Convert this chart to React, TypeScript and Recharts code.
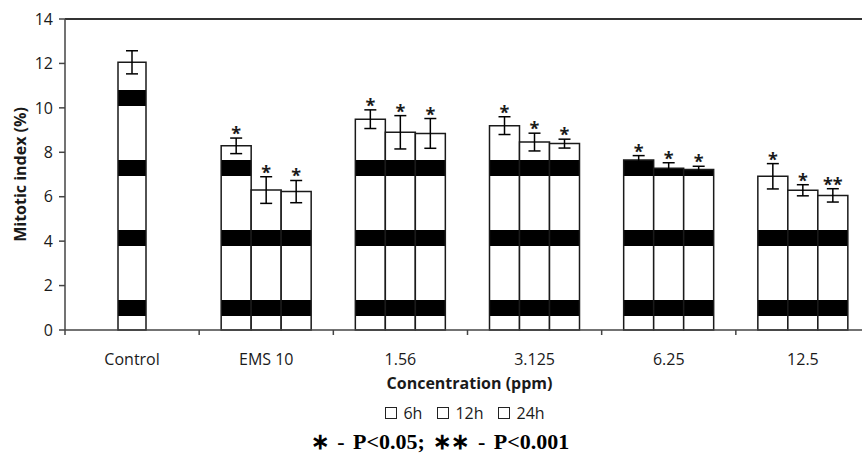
import * as React from 'react';
import { BarChart, Bar, XAxis, YAxis, ErrorBar, LabelList, Legend, ReferenceLine } from 'recharts';

// categories and values
const categories = ['Control', 'EMS 10', '1.56', '3.125', '6.25', '12.5'];
const seriesOrder = ['6h', '12h', '24h'];
const controlMean = [12.05, null, null, null, null, null];
const controlErr = [0.52, null, null, null, null, null];
const mean6h = [null, 8.29, 9.49, 9.2, 7.65, 6.92];
const mean12h = [null, 6.3, 8.9, 8.46, 7.28, 6.29];
const mean24h = [null, 6.23, 8.85, 8.39, 7.22, 6.06];
const err6h = [null, 0.35, 0.42, 0.4, 0.2, 0.57];
const err12h = [null, 0.6, 0.75, 0.4, 0.25, 0.25];
const err24h = [null, 0.5, 0.67, 0.2, 0.15, 0.3];
const sig6h = ['', '*', '*', '*', '*', '*'];
const sig12h = ['', '*', '*', '*', '*', '*'];
const sig24h = ['', '*', '*', '*', '*', '**'];
const yTicks = [0, 2, 4, 6, 8, 10, 12, 14];

const data = categories.map((c, i) => ({
  name: c,
  control: controlMean[i],
  controlErr: controlErr[i],
  h6: mean6h[i],
  h12: mean12h[i],
  h24: mean24h[i],
  e6: err6h[i],
  e12: err12h[i],
  e24: err24h[i],
}));

const FONT = '"Open Sans", sans-serif';
const INK = '#1a1a1a';

// star marker above the error bar; the label value is the category name
const starLabel = (means: (number | null)[], errs: (number | null)[], sigs: string[]) => (props: any) => {
  const { x, y, width, height, value } = props;
  const i = categories.indexOf(value);
  const s = sigs[i];
  const m = means[i];
  if (!s || !m) return null;
  const errPx = ((errs[i] || 0) * height) / m;
  return (
    <text x={x + width / 2} y={y - errPx + 2} textAnchor="middle" fontFamily={FONT} fontWeight={700} fontSize={18} fill={INK}>
      {s}
    </text>
  );
};

// category label at the middle, tick mark on the boundary between categories
const CatTick = (props: any) => {
  const { x, y, payload, width, visibleTicksCount } = props;
  const half = width && visibleTicksCount ? width / visibleTicksCount / 2 : payload.offset || 0;
  return (
    <g>
      <line x1={x - half} x2={x - half} y1={y} y2={y + 5} stroke="#444" strokeWidth={1.5} />
      <text x={x} y={y + 35} textAnchor="middle" fontFamily={FONT} fontSize={16} fill={INK}>
        {payload.value}
      </text>
    </g>
  );
};

const YTitle = (props: any) => {
  const vb = props.viewBox;
  const cx = 20;
  const cy = vb.y + vb.height / 2;
  return (
    <text x={cx} y={cy} textAnchor="middle" dominantBaseline="central" transform={`rotate(-90, ${cx}, ${cy})`}
      fontFamily={FONT} fontWeight={700} fontSize={16} fill={INK}>
      Mitotic index (%)
    </text>
  );
};

const XTitle = (props: any) => {
  const vb = props.viewBox;
  return (
    <text x={vb.x + vb.width / 2 + 2} y={vb.y + 59} textAnchor="middle" fontFamily={FONT} fontWeight={700} fontSize={16} fill={INK}>
      Concentration (ppm)
    </text>
  );
};

const LegendBox = (props: any) => {
  const items = (props.payload || [])
    .filter((p: any) => seriesOrder.includes(p.value))
    .sort((a: any, b: any) => seriesOrder.indexOf(a.value) - seriesOrder.indexOf(b.value));
  return (
    <div style={{ display: 'flex', justifyContent: 'center', gap: 15, fontFamily: FONT, fontSize: 16, color: INK }}>
      {items.map((p: any) => (
        <span key={p.value} style={{ display: 'flex', alignItems: 'center' }}>
          <span style={{ width: 12, height: 12, border: '1.3px solid #222', marginRight: 6, boxSizing: 'border-box' }} />
          {p.value}
        </span>
      ))}
    </div>
  );
};

export default function App() {
  const barStyle = { fill: 'url(#bands)', stroke: INK, strokeWidth: 1.5 };
  return (
    <div style={{ position: 'absolute', left: 0, top: 0, width: 862, height: 469, overflow: 'hidden', background: '#fff' }}>
      <BarChart width={880} height={469} data={data} margin={{ top: 19, right: 10, bottom: 69, left: 0 }}
        barGap={0} barCategoryGap="16.4%">
        <defs>
          <pattern id="bands" patternUnits="userSpaceOnUse" x={0} y={0} width={10} height={70}>
            <rect x={0} y={0} width={10} height={70} fill="#fff" />
            <rect x={0} y={20} width={10} height={16} fill="#000" />
          </pattern>
        </defs>
        <XAxis dataKey="name" xAxisId="main" interval={0} tickSize={0} tickMargin={0} tick={<CatTick />}
          axisLine={{ stroke: '#444', strokeWidth: 1.5 }} height={70} label={<XTitle />} />
        <XAxis dataKey="name" xAxisId="ctrl" hide height={0} />
        <YAxis domain={[0, 14]} ticks={yTicks} width={65} tickSize={6} tickMargin={6}
          tick={{ fontFamily: FONT, fontSize: 16, fill: INK }}
          tickLine={{ stroke: '#444', strokeWidth: 1.5 }} axisLine={{ stroke: '#444', strokeWidth: 1.5 }}
          label={<YTitle />} />
        <ReferenceLine y={14} xAxisId="main" stroke="#333" strokeWidth={2} ifOverflow="visible" />
        <Bar dataKey="control" xAxisId="ctrl" barSize={28} legendType="none" {...barStyle} isAnimationActive={false}>
          <ErrorBar dataKey="controlErr" width={6} stroke="#000" strokeWidth={1.5} />
        </Bar>
        <Bar dataKey="h6" name="6h" xAxisId="main" {...barStyle} isAnimationActive={false}>
          <ErrorBar dataKey="e6" width={6} stroke="#000" strokeWidth={1.5} />
          <LabelList dataKey="name" content={starLabel(mean6h, err6h, sig6h)} />
        </Bar>
        <Bar dataKey="h12" name="12h" xAxisId="main" {...barStyle} isAnimationActive={false}>
          <ErrorBar dataKey="e12" width={6} stroke="#000" strokeWidth={1.5} />
          <LabelList dataKey="name" content={starLabel(mean12h, err12h, sig12h)} />
        </Bar>
        <Bar dataKey="h24" name="24h" xAxisId="main" {...barStyle} isAnimationActive={false}>
          <ErrorBar dataKey="e24" width={6} stroke="#000" strokeWidth={1.5} />
          <LabelList dataKey="name" content={starLabel(mean24h, err24h, sig24h)} />
        </Bar>
        <Legend verticalAlign="middle" align="center" content={<LegendBox />}
          wrapperStyle={{ top: 402, left: 0, width: 930 }} />
      </BarChart>
      <div style={{ position: 'absolute', left: 0, top: 429, width: 880, textAlign: 'center', fontFamily: '"Liberation Serif", serif', fontWeight: 700, fontSize: 22, wordSpacing: 3, color: '#000' }}>
        ∗ - P&lt;0.05; ∗∗ - P&lt;0.001
      </div>
    </div>
  );
}
